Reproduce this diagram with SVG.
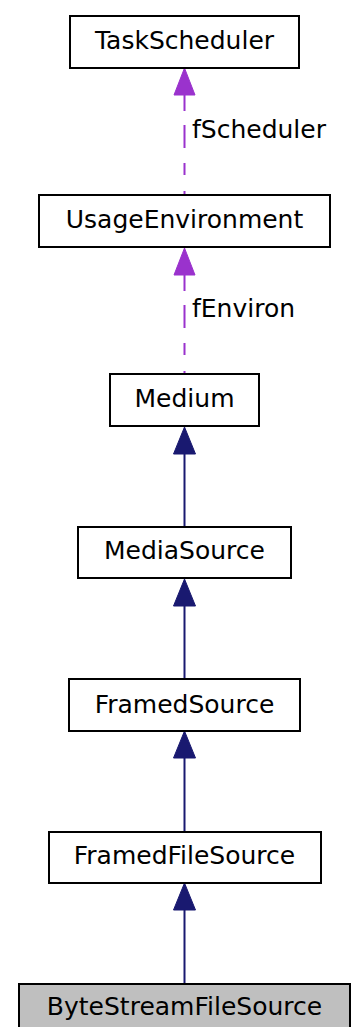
<svg xmlns="http://www.w3.org/2000/svg" width="354" height="1027" viewBox="0 0 354 1027">
  <style>
    .box { fill: #ffffff; stroke: #000000; stroke-width: 2; }
    .cur { fill: #bfbfbf; stroke: #000000; stroke-width: 2; }
    .lbl { font-family: "DejaVu Sans", sans-serif; font-size: 25px; fill: #000000; text-anchor: middle; }
    .elbl { font-family: "DejaVu Sans", sans-serif; font-size: 25px; fill: #000000; }
    .inh { stroke: #191970; stroke-width: 2; fill: none; }
    .use { stroke: #9a32cd; stroke-width: 2; fill: none; stroke-dasharray: 16 14 23 15 12 16 4; }
    .inhHead { fill: #191970; stroke: #191970; }
    .useHead { fill: #9a32cd; stroke: #9a32cd; }
  </style>

  <g id="connectors">
    <!-- usage (member) relations, drawn from arrowhead base down to the using class -->
    <path class="use" d="M184.5,95 L184.5,195"/>
    <polygon class="useHead" points="184.5,68 195,95 174,95"/>
    <text class="elbl" x="192" y="138">fScheduler</text>
    <path class="use" d="M184.5,275 L184.5,374"/>
    <polygon class="useHead" points="184.5,248 195,275 174,275"/>
    <text class="elbl" x="192" y="317">fEnviron</text>
    <!-- inheritance relations -->
    <path class="inh" d="M184.5,527 L184.5,454"/>
    <polygon class="inhHead" points="184.5,427 195.5,454 173.5,454"/>
    <path class="inh" d="M184.5,679 L184.5,606"/>
    <polygon class="inhHead" points="184.5,579 195.5,606 173.5,606"/>
    <path class="inh" d="M184.5,832 L184.5,758"/>
    <polygon class="inhHead" points="184.5,731 195.5,758 173.5,758"/>
    <path class="inh" d="M184.5,984 L184.5,910"/>
    <polygon class="inhHead" points="184.5,883 195.5,910 173.5,910"/>
  </g>

  <g id="TaskScheduler">
    <rect class="box" x="70" y="16" width="229" height="52"/>
    <text class="lbl" x="184.5" y="49">TaskScheduler</text>
  </g>
  <g id="UsageEnvironment">
    <rect class="box" x="39" y="195" width="291" height="52"/>
    <text class="lbl" x="184.5" y="228">UsageEnvironment</text>
  </g>
  <g id="Medium">
    <rect class="box" x="110" y="374" width="149" height="52"/>
    <text class="lbl" x="184.5" y="407">Medium</text>
  </g>
  <g id="MediaSource">
    <rect class="box" x="78" y="527" width="213" height="51"/>
    <text class="lbl" x="184.5" y="559">MediaSource</text>
  </g>
  <g id="FramedSource">
    <rect class="box" x="69" y="679" width="231" height="52"/>
    <text class="lbl" x="184.5" y="713">FramedSource</text>
  </g>
  <g id="FramedFileSource">
    <rect class="box" x="49" y="832" width="272" height="51"/>
    <text class="lbl" x="184.5" y="864">FramedFileSource</text>
  </g>
  <g id="ByteStreamFileSource">
    <rect class="cur" x="19" y="984" width="331" height="52"/>
    <text class="lbl" x="184.5" y="1015">ByteStreamFileSource</text>
  </g>
</svg>
